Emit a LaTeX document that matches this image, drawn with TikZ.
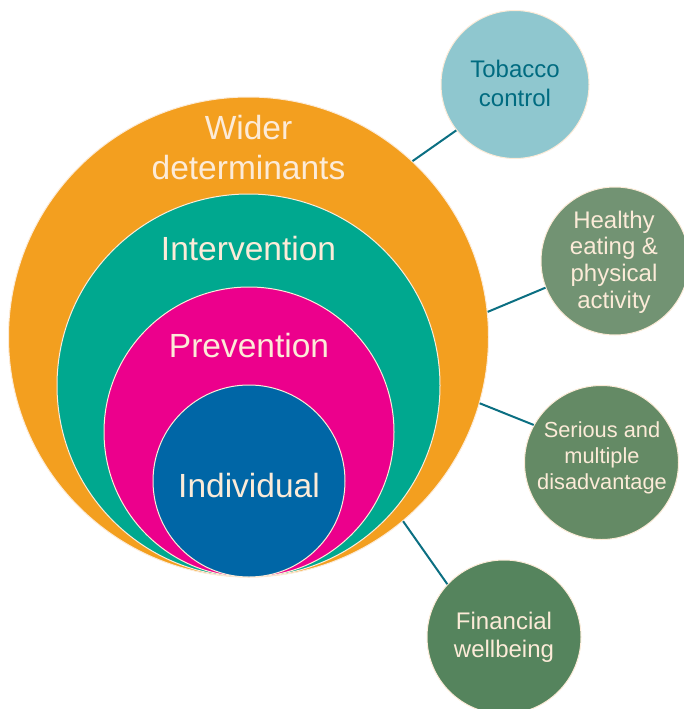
\documentclass[tikz,border=0pt]{standalone}
\usepackage{fontspec}
\setmainfont{Liberation Sans}
\definecolor{worange}{HTML}{F39F1F}
\definecolor{wteal}{HTML}{00A88F}
\definecolor{wmagenta}{HTML}{EC008C}
\definecolor{wblue}{HTML}{0066A6}
\definecolor{cream}{HTML}{FCEBD8}
\definecolor{tobfill}{HTML}{8FC7CF}
\definecolor{tobtext}{HTML}{006B80}
\definecolor{healthfill}{HTML}{729373}
\definecolor{seriousfill}{HTML}{648A65}
\definecolor{finfill}{HTML}{55845D}
\definecolor{linkc}{HTML}{0B6F82}
\begin{document}
\begin{tikzpicture}[x=1pt,y=-1pt,
  ring/.style={circle, draw=cream, line width=1pt, inner sep=0pt},
  bigtext/.style={text=cream, font=\fontsize{33.5}{40}\selectfont, align=center, inner sep=0pt},
  smalltext/.style={font=\fontsize{24}{29}\selectfont, align=center, inner sep=0pt},
  link/.style={draw=linkc, line width=2pt}]
\useasboundingbox (0,0) rectangle (684,709);
% concentric circles
\node[ring, fill=worange, minimum size=480pt] (wider) at (248.5,337) {};
\node[ring, fill=wteal, minimum size=383pt] (inter) at (248.5,385.5) {};
\node[ring, fill=wmagenta, minimum size=290pt] (prev) at (249,432) {};
\node[ring, fill=wblue, minimum size=192pt] (indiv) at (249,481) {};
% labels
\node[bigtext] (widerlbl) at (248.5,147.5) {Wider\\determinants};
\node[bigtext, anchor=base] (interlbl) at (248.5,260) {Intervention};
\node[bigtext, anchor=base] (prevlbl) at (249,357) {Prevention};
\node[bigtext, anchor=base] (indivlbl) at (249,497) {Individual};
% outer circles
\node[ring, fill=tobfill, minimum size=148pt] (tob) at (515,84.5) {};
\node[ring, fill=healthfill, minimum size=148pt] (health) at (615,261) {};
\node[ring, fill=seriousfill, minimum size=154pt] (serious) at (601.5,462.5) {};
\node[ring, fill=finfill, minimum size=154pt] (fin) at (504,637) {};
\node[smalltext, text=tobtext] (toblbl) at (515,83) {Tobacco\\control};
\node[smalltext, text=cream, font=\fontsize{24}{26.7}\selectfont] (healthlbl) at (614,262) {Healthy\\eating \&\\physical\\activity};
\node[smalltext, text=cream, font=\fontsize{21.8}{26}\selectfont] (seriouslbl) at (602,458) {Serious and\\multiple\\disadvantage};
\node[smalltext, text=cream, font=\fontsize{24}{28}\selectfont] (finlbl) at (504,637) {Financial\\wellbeing};
% connectors
\draw[link] (wider.47.3) -- (tob.218);
\draw[link] (wider.6.9) -- (health.201);
\draw[link] (wider.-16.5) -- (serious.151);
\draw[link] (wider.-50) -- (fin.137.6);
\end{tikzpicture}
\end{document}
